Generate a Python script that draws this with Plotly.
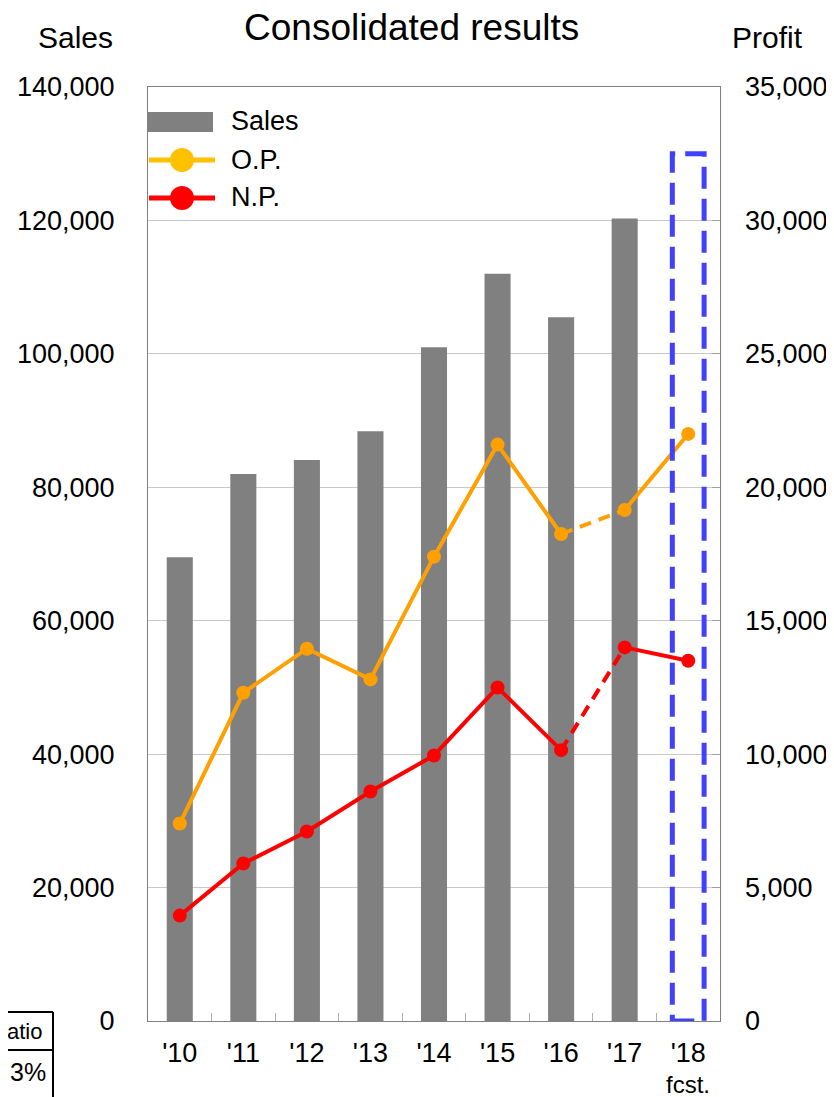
import plotly.graph_objects as go

# ---------------- data ----------------
years = ["'10", "'11", "'12", "'13", "'14", "'15", "'16", "'17", "'18"]
fcst_label = "fcst."
sales = [69500, 82000, 84100, 88400, 101000, 112000, 105500, 120300, None]
sales_fcst = 130000
op = [7400, 12300, 13950, 12800, 17400, 21600, 18250, 19150, 22000]
np_ = [3950, 5900, 7100, 8600, 9950, 12500, 10150, 14000, 13500]
left_ticks = [0, 20000, 40000, 60000, 80000, 100000, 120000, 140000]
right_ticks = [0, 5000, 10000, 15000, 20000, 25000, 30000, 35000]

# ---------------- layout geometry (screen px; page body has an 8px margin) ----------------
OFF = 8
W, H = 834 - OFF, 1097 - OFF
SPL, SPR, SPT, SPB = 148, 720, 87, 1021
PL, PR, PT, PB = SPL - OFF, SPR - OFF, SPT - OFF, SPB - OFF


def fx(px):
    return (px - SPL) / (SPR - SPL)


def fy(py):
    return (SPB - py) / (SPB - SPT)


GREY = "#808080"
ORANGE = "#FFA000"
ORANGE_LEG = "#FFC000"
RED = "#FF0000"
BLUE = "#4040FF"
FONT = "Liberation Sans, Arial, sans-serif"


def seg(vals, lo, hi):
    return [v if lo <= i <= hi else None for i, v in enumerate(vals)]


fig = go.Figure()

fig.add_trace(go.Bar(x=years, y=sales, marker=dict(color=GREY, line=dict(width=0)),
                     width=0.41, showlegend=False, name="Sales"))

for vals, col in ((op, ORANGE), (np_, RED)):
    fig.add_trace(go.Scatter(x=years, y=seg(vals, 0, 6), yaxis="y2", mode="lines",
                             line=dict(color=col, width=4), showlegend=False))
    fig.add_trace(go.Scatter(x=years, y=seg(vals, 6, 7), yaxis="y2", mode="lines",
                             line=dict(color=col, width=4, dash="12px,8px"), showlegend=False))
    fig.add_trace(go.Scatter(x=years, y=seg(vals, 7, 8), yaxis="y2", mode="lines",
                             line=dict(color=col, width=4), showlegend=False))
    fig.add_trace(go.Scatter(x=years, y=vals, yaxis="y2", mode="markers",
                             marker=dict(color=col, size=14), showlegend=False))

shapes = []
shapes.append(dict(type="rect", xref="x", yref="y", x0=8 - 0.25, x1=8 + 0.25, y0=0, y1=sales_fcst,
                   line=dict(color=BLUE, width=5, dash="22px,10px"), layer="above"))

# manual legend
shapes.append(dict(type="rect", xref="paper", yref="paper", x0=fx(148), x1=fx(213),
                   y0=fy(132), y1=fy(112), fillcolor=GREY, line=dict(width=0)))
for ycen, col in ((160, ORANGE_LEG), (198, RED)):
    shapes.append(dict(type="line", xref="paper", yref="paper", x0=fx(149), x1=fx(215),
                       y0=fy(ycen), y1=fy(ycen), line=dict(color=col, width=5)))
    shapes.append(dict(type="circle", xref="paper", yref="paper", x0=fx(170), x1=fx(194),
                       y0=fy(ycen + 12), y1=fy(ycen - 12), fillcolor=col, line=dict(width=0)))

# cropped table cells on the left
for x0, y0, x1, y1 in ((0, 1012, 53, 1012), (53, 1012, 53, 1100), (0, 1050, 53, 1050)):
    shapes.append(dict(type="line", xref="paper", yref="paper", x0=fx(x0), x1=fx(x1),
                       y0=fy(y0), y1=fy(y1), line=dict(color="black", width=2)))

annotations = []


def txt(text, x, y, size, xanchor="center", yanchor="middle"):
    annotations.append(dict(text=text, xref="paper", yref="paper", x=fx(x), y=fy(y),
                            xanchor=xanchor, yanchor=yanchor, showarrow=False,
                            font=dict(size=size, color="black", family=FONT)))


txt("Consolidated results", 411, 28, 37)
txt("Sales", 75, 37, 30)
txt("Profit", 767, 37, 30)
txt("Sales", 229, 121, 27, xanchor="left")
txt("O.P.", 229, 160, 27, xanchor="left")
txt("N.P.", 229, 197, 27, xanchor="left")
txt("atio", 44, 1031, 22, xanchor="right")
txt("3%", 48, 1072, 25, xanchor="right")

# "fcst." under the '18 tick label
annotations.append(dict(text=fcst_label, xref="x", yref="paper", x=years[-1], y=fy(1069),
                        xanchor="center", yanchor="top", showarrow=False,
                        font=dict(size=24, color="black", family=FONT)))

fig.update_layout(
    width=W, height=H,
    margin=dict(l=PL, r=W - PR, t=PT, b=H - PB, autoexpand=False),
    paper_bgcolor="white", plot_bgcolor="white",
    font=dict(family=FONT, size=27, color="black"),
    showlegend=False,
    shapes=shapes,
    annotations=annotations,
    xaxis=dict(type="category", tickmode="array", tickvals=years, ticktext=years,
               showline=True, linecolor=GREY, linewidth=1, mirror=True,
               ticks="inside", tickson="boundaries", ticklen=8, tickcolor="#B0B0B0",
               showgrid=False, ticklabelstandoff=8, range=[-0.5, 8.5], automargin=False),
    yaxis=dict(range=[0, 140000], tickvals=left_ticks, tickformat=",",
               showline=True, linecolor=GREY, linewidth=1, mirror=True,
               showgrid=True, gridcolor="#C8C8C8", gridwidth=1, zeroline=False,
               ticks="", ticklabelstandoff=27, automargin=False),
    yaxis2=dict(range=[0, 35000], tickvals=right_ticks, tickformat=",", overlaying="y", side="right",
                showgrid=False, zeroline=False, showline=False,
                ticks="inside", ticklen=8, tickcolor="#A0A0A0", ticklabelstandoff=24,
                automargin=False),
)

fig.write_html("out.html")
